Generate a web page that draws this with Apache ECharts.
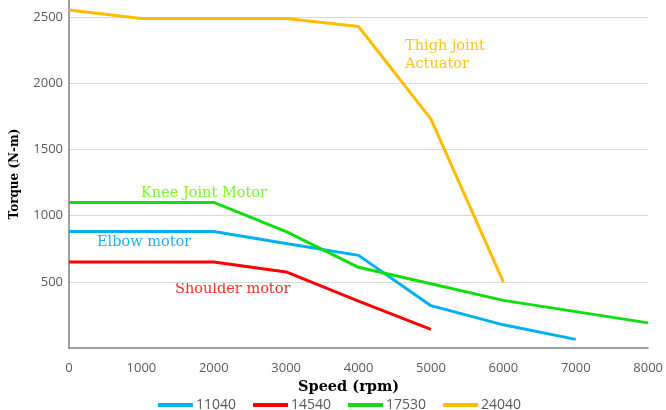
<!DOCTYPE html>
<html>
<head>
<meta charset="utf-8">
<script src="https://cdn.jsdelivr.net/npm/echarts@6/dist/echarts.min.js"></script>
<style>
  html, body { margin: 0; padding: 0; background: #ffffff; }
  #chart { width: 666px; height: 410px; }
</style>
</head>
<body>
<div id="chart"></div>
<script>
// Torque–speed curves of the four joint motors
const speed11040 = [0, 2000, 3000, 4000, 5000, 6000, 7000];
const torque11040 = [880, 880, 790, 700, 320, 175, 65];

const speed14540 = [0, 2000, 3000, 4000, 5000];
const torque14540 = [650, 650, 575, 355, 140];

const speed17530 = [0, 2000, 3000, 4000, 5000, 6000, 7000, 8000];
const torque17530 = [1100, 1100, 880, 610, 485, 360, 275, 190];

const speed24040 = [0, 1000, 2000, 3000, 4000, 5000, 6000];
const torque24040 = [2555, 2490, 2490, 2490, 2430, 1730, 500];

const seriesNames = ['11040', '14540', '17530', '24040'];
const seriesColors = ['#00B0F0', '#FF0000', '#11DD11', '#FFBC00'];

const speedTicks = [0, 1000, 2000, 3000, 4000, 5000, 6000, 7000, 8000];
const torqueTicks = [500, 1000, 1500, 2000, 2500];

function pairs(xs, ys) {
  return xs.map((x, i) => [x, ys[i]]);
}

const seriesData = [
  pairs(speed11040, torque11040),
  pairs(speed14540, torque14540),
  pairs(speed17530, torque17530),
  pairs(speed24040, torque24040)
];

const chart = echarts.init(document.getElementById('chart'), null, { renderer: 'canvas' });

const tickFont = { fontFamily: 'Open Sans', fontSize: 13, color: '#595959' };
const serifNote = { fontFamily: 'DejaVu Serif', fontSize: 14.5 };

chart.setOption({
  animation: false,
  backgroundColor: '#ffffff',
  grid: { left: 69, right: 15, top: 0, bottom: 62, containLabel: false },
  xAxis: {
    type: 'value',
    min: speedTicks[0],
    max: speedTicks[speedTicks.length - 1],
    interval: 1000,
    name: 'Speed (rpm)',
    nameLocation: 'middle',
    nameGap: 28,
    nameTextStyle: {
      fontFamily: 'DejaVu Serif', fontSize: 14.5, fontWeight: 'bold', color: '#000000',
      padding: [0, 20, 0, 0]
    },
    axisLine: { show: true, lineStyle: { color: '#7f7f7f', width: 1.5 } },
    axisTick: { show: false },
    splitLine: { show: false },
    axisLabel: Object.assign({
      margin: 14,
      formatter: v => (speedTicks.indexOf(v) >= 0 ? String(v) : '')
    }, tickFont)
  },
  yAxis: {
    type: 'value',
    min: 0,
    max: 2630,
    interval: 500,
    name: 'Torque (N-m)',
    nameLocation: 'middle',
    nameGap: 48,
    nameTextStyle: {
      fontFamily: 'DejaVu Serif', fontSize: 12, fontWeight: 'bold', color: '#000000'
    },
    axisLine: { show: true, lineStyle: { color: '#7f7f7f', width: 1.5 } },
    axisTick: { show: false },
    splitLine: {
      show: true, showMinLine: false, showMaxLine: false,
      lineStyle: { color: '#d9d9d9', width: 1 }
    },
    axisLabel: Object.assign({
      margin: 6,
      showMaxLabel: false,
      formatter: v => (torqueTicks.indexOf(v) >= 0 ? String(v) : '')
    }, tickFont)
  },
  legend: {
    data: seriesNames,
    left: 153,
    top: 393,
    icon: 'rect',
    itemWidth: 35,
    itemHeight: 4,
    itemGap: 17,
    textStyle: { fontFamily: 'Open Sans', fontSize: 14, color: '#595959', padding: [0, 0, 0, -2] }
  },
  series: seriesNames.map((name, i) => ({
    name: name,
    type: 'line',
    data: seriesData[i],
    symbol: 'none',
    clip: false,
    color: seriesColors[i],
    lineStyle: { width: 3, color: seriesColors[i] },
    z: 2 + i
  })),
  graphic: [
    { type: 'text', left: 405, top: 37, style: Object.assign({ text: 'Thigh joint\nActuator', fill: '#FFC21F', lineHeight: 18 }, serifNote) },
    { type: 'text', left: 141, top: 186, style: Object.assign({ text: 'Knee Joint Motor', fill: '#7EF526' }, serifNote) },
    { type: 'text', left: 97, top: 235, style: Object.assign({ text: 'Elbow motor', fill: '#20B2F0' }, serifNote) },
    { type: 'text', left: 175, top: 282, style: Object.assign({ text: 'Shoulder motor', fill: '#FF2A2A' }, serifNote) }
  ]
});
</script>
</body>
</html>
